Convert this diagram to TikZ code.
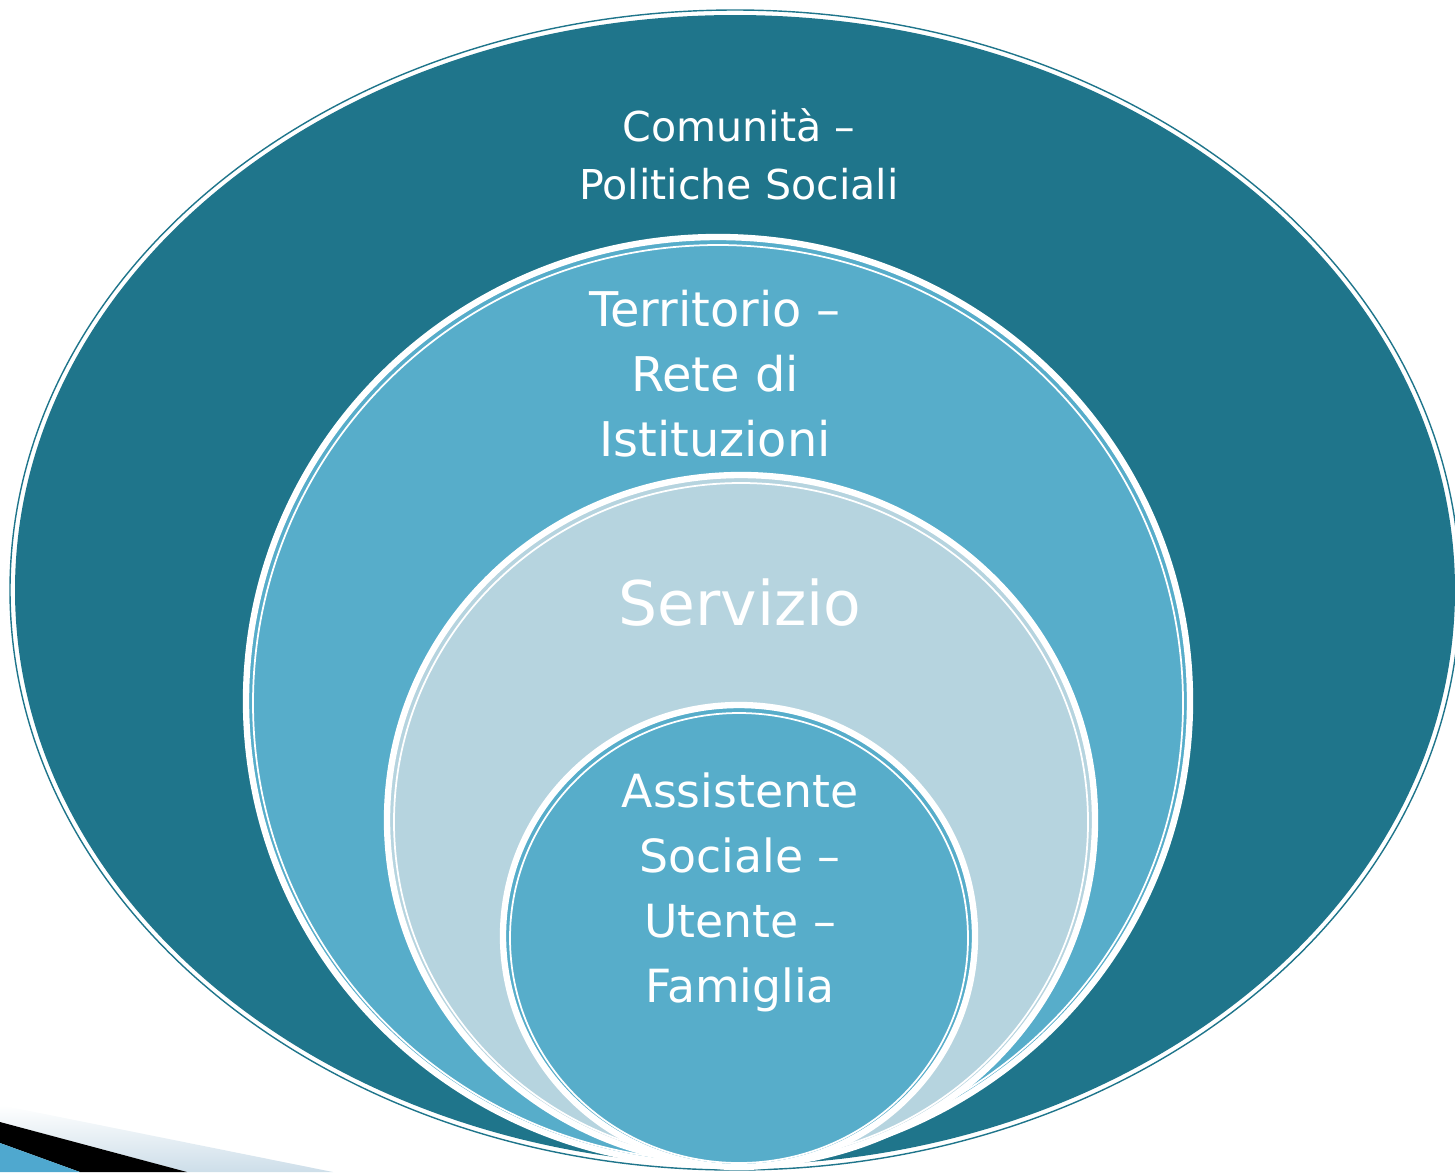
\documentclass[tikz,border=0pt]{standalone}
\usepackage{fontspec}
\setmainfont{DejaVu Sans}
\definecolor{tealdark}{RGB}{31,117,139}
\definecolor{midblue}{RGB}{87,173,202}
\definecolor{paleblue}{RGB}{182,212,223}
\definecolor{stripgray}{RGB}{205,222,233}
\definecolor{cornerblue}{RGB}{79,168,207}
\begin{document}
\begin{tikzpicture}[x=0.01cm,y=-0.01cm,
    ring/.style={draw=white,line width=1.8pt},
    innerline/.style={draw=white,line width=0.5pt},
    ringtext/.style={text=white,align=center,inner sep=0pt}]
\useasboundingbox (0,0) rectangle (1455,1172);
% corner strip
\shade[top color=white,bottom color=stripgray] (0,1105)--(333,1172)--(187,1172)--(0,1122)--cycle;
\fill[black] (0,1122)--(187,1172)--(80,1172)--(0,1143)--cycle;
\fill[cornerblue] (0,1143)--(80,1172)--(0,1172)--cycle;
% comunita
\draw[tealdark,line width=0.4pt] (735,590) ellipse [x radius=725,y radius=580];
\fill[tealdark] (735,590) ellipse [x radius=720,y radius=575];
% territorio
\fill[midblue,ring] (718,701) ellipse [x radius=472,y radius=464];
\draw[innerline] (718,703) ellipse [x radius=465,y radius=458];
% servizio
\fill[paleblue,ring] (741,820) ellipse [x radius=354,y radius=345];
\draw[innerline] (741,822) ellipse [x radius=347,y radius=339];
% assistente
\fill[midblue,ring] (739,936) ellipse [x radius=236,y radius=231];
\draw[innerline] (739,938) ellipse [x radius=229,y radius=225];
% labels
\node[ringtext,font=\fontsize{11.7pt}{16.5pt}\selectfont] (comunita) at (739,154) {Comunità –\\Politiche Sociali};
\node[ringtext,font=\fontsize{13.6pt}{18.5pt}\selectfont] (territorio) at (715,374) {Territorio –\\Rete di\\Istituzioni};
\node[ringtext,font=\fontsize{17.5pt}{21pt}\selectfont] (servizio) at (740,603) {Servizio};
\node[ringtext,font=\fontsize{13pt}{18.5pt}\selectfont] (assistente) at (740,892) {Assistente\\Sociale –\\Utente –\\Famiglia};
\end{tikzpicture}
\end{document}
